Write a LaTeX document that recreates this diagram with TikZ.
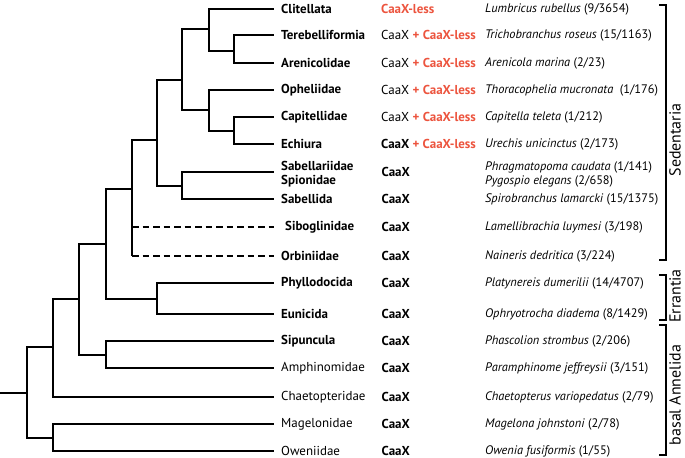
\documentclass[tikz,border=0pt]{standalone}
\usepackage{fontspec}
\setmainfont{PT Sans}
\definecolor{lessred}{RGB}{236,84,62}
\newcommand\fs{\fontsize{12.4}{14}\selectfont}
\newcommand\ffs{\fontsize{13}{14.5}\selectfont}
\newcommand\lfs{\fontsize{16}{18}\selectfont}
\newcommand\less[1]{\textcolor{lessred}{\bfseries #1}}
\begin{document}
\begin{tikzpicture}[x=1bp,y=-1bp,
  br/.style={line width=1.8bp, line join=miter},
  dbr/.style={br, dash pattern=on 6.5bp off 4bp},
  bk/.style={line width=2bp, line join=miter},
  fam/.style={anchor=west, inner sep=0pt, font=\ffs\bfseries, align=left},
  famr/.style={anchor=west, inner sep=0pt, font=\ffs, align=left},
  cx/.style={anchor=west, inner sep=0pt, font=\ffs},
  sp/.style={anchor=west, inner sep=0pt, font=\fs, align=left},
  lab/.style={rotate=90, inner sep=0pt, font=\lfs}]
\useasboundingbox (0,0) rectangle (685,458);
% leaf tips
\coordinate (t1) at (274,9);
\coordinate (t2) at (274,35);
\coordinate (t3) at (274,63);
\coordinate (t4) at (274,90);
\coordinate (t5) at (274,117);
\coordinate (t6) at (274,144);
\coordinate (t7) at (274,172);
\coordinate (t8) at (274,199);
\coordinate (t9) at (274,227);
\coordinate (t10) at (274,256);
\coordinate (t11) at (274,283);
\coordinate (t12) at (274,314);
\coordinate (t13) at (274,341);
\coordinate (t14) at (274,368);
\coordinate (t15) at (274,397);
\coordinate (t16) at (274,424);
\coordinate (t17) at (274,451);
% internal nodes
\coordinate (n23) at (234,51);
\coordinate (n123) at (209,29);
\coordinate (n56) at (234,131);
\coordinate (n456) at (209,110);
\coordinate (nA) at (182,80);
\coordinate (n78) at (182,186);
\coordinate (nB) at (157,140);
\coordinate (nC) at (132,189);
\coordinate (n1112) at (157,299);
\coordinate (nD) at (106,244);
\coordinate (n1314) at (106,355);
\coordinate (nE) at (79,299);
\coordinate (nF) at (53,347);
\coordinate (n1617) at (53,438);
\coordinate (nR) at (27,393);
\coordinate (r0) at (0,393);
% tree
\draw[br] (n123) |- (t1);
\draw[br] (n123) |- (n23);
\draw[br] (n23) |- (t2);
\draw[br] (n23) |- (t3);
\draw[br] (nA) |- (n123);
\draw[br] (nA) |- (n456);
\draw[br] (n456) |- (t4);
\draw[br] (n456) |- (n56);
\draw[br] (n56) |- (t5);
\draw[br] (n56) |- (t6);
\draw[br] (nB) |- (nA);
\draw[br] (nB) |- (n78);
\draw[br] (n78) |- (t7);
\draw[br] (n78) |- (t8);
\draw[br] (nC) |- (nB);
\draw[br] (nC) -- (nC |- t10);
\draw[dbr] (nC |- t9) -- (t9);
\draw[dbr] (nC |- t10) -- (t10);
\draw[br] (nD) |- (nC);
\draw[br] (nD) |- (n1112);
\draw[br] (n1112) |- (t11);
\draw[br] (n1112) |- (t12);
\draw[br] (nE) |- (nD);
\draw[br] (nE) |- (n1314);
\draw[br] (n1314) |- (t13);
\draw[br] (n1314) |- (t14);
\draw[br] (nF) |- (nE);
\draw[br] (nF) |- (t15);
\draw[br] (nR) |- (nF);
\draw[br] (nR) |- (n1617);
\draw[br] (n1617) |- (t16);
\draw[br] (n1617) |- (t17);
\draw[br] (r0) -- (nR);
% family names
\node[fam] (f1) at (281,9) {Clitellata};
\node[fam] (f2) at (281,35) {Terebelliformia};
\node[fam] (f3) at (281,63) {Arenicolidae};
\node[fam] (f4) at (281,90) {Opheliidae};
\node[fam] (f5) at (281,117) {Capitellidae};
\node[fam] (f6) at (281,144) {Echiura};
\node[fam] (f7) at (281,174) {Sabellariidae\\Spionidae};
\node[fam] (f8) at (281,199) {Sabellida};
\node[fam] (f9) at (285,227) {Siboglinidae};
\node[fam] (f10) at (281,256) {Orbiniidae};
\node[fam] (f11) at (281,283) {Phyllodocida};
\node[fam] (f12) at (281,314) {Eunicida};
\node[fam] (f13) at (281,341) {Sipuncula};
\node[famr] (f14) at (281,368) {Amphinomidae};
\node[famr] (f15) at (281,397) {Chaetopteridae};
\node[famr] (f16) at (281,424) {Magelonidae};
\node[famr] (f17) at (281,451) {Oweniidae};
% CaaX column
\node[cx] (c1) at (381,9) {\less{CaaX-less}};
\node[cx] (c2) at (381,35) {CaaX \less{+ CaaX-less}};
\node[cx] (c3) at (381,63) {CaaX \less{+ CaaX-less}};
\node[cx] (c4) at (381,90) {CaaX \less{+ CaaX-less}};
\node[cx] (c5) at (381,117) {CaaX \less{+ CaaX-less}};
\node[cx] (c6) at (381,144) {\bfseries CaaX \less{+ CaaX-less}};
\node[cx] (c7) at (381.5,172) {\bfseries CaaX};
\node[cx] (c8) at (381.5,199) {\bfseries CaaX};
\node[cx] (c9) at (381.5,227) {\bfseries CaaX};
\node[cx] (c10) at (381.5,256) {\bfseries CaaX};
\node[cx] (c11) at (381.5,283) {\bfseries CaaX};
\node[cx] (c12) at (381.5,314) {\bfseries CaaX};
\node[cx] (c13) at (381.5,341) {\bfseries CaaX};
\node[cx] (c14) at (381.5,368) {\bfseries CaaX};
\node[cx] (c15) at (381.5,397) {\bfseries CaaX};
\node[cx] (c16) at (381.5,424) {\bfseries CaaX};
\node[cx] (c17) at (381.5,451) {\bfseries CaaX};
% species
\node[sp] (s1) at (485,9) {\textit{Lumbricus rubellus} (9/3654)};
\node[sp] (s2) at (485,35) {\textit{Trichobranchus roseus} (15/1163)};
\node[sp] (s3) at (485,63) {\textit{Arenicola marina} (2/23)};
\node[sp] (s4) at (485,90) {\textit{Thoracophelia mucronata}\ \ (1/176)};
\node[sp] (s5) at (485,117) {\textit{Capitella teleta} (1/212)};
\node[sp] (s6) at (485,144) {\textit{Urechis unicinctus} (2/173)};
\node[sp] (s7) at (485,174) {\textit{Phragmatopoma caudata} (1/141)\\\textit{Pygospio elegans} (2/658)};
\node[sp] (s8) at (485,199) {\textit{Spirobranchus lamarcki} (15/1375)};
\node[sp] (s9) at (485,227) {\textit{Lamellibrachia luymesi} (3/198)};
\node[sp] (s10) at (485,256) {\textit{Naineris dedritica} (3/224)};
\node[sp] (s11) at (485,283) {\textit{Platynereis dumerilii} (14/4707)};
\node[sp] (s12) at (485,314) {\textit{Ophryotrocha diadema} (8/1429)};
\node[sp] (s13) at (485,341) {\textit{Phascolion strombus} (2/206)};
\node[sp] (s14) at (485,368) {\textit{Paramphinome jeffreysii} (3/151)};
\node[sp] (s15) at (485,397) {\textit{Chaetopterus variopedatus} (2/79)};
\node[sp] (s16) at (485,424) {\textit{Magelona johnstoni} (2/78)};
\node[sp] (s17) at (485,451) {\textit{Owenia fusiformis} (1/55)};
% brackets
\coordinate (b1a) at (659,5);
\coordinate (b1b) at (659,260);
\coordinate (b2a) at (659,275);
\coordinate (b2b) at (659,320);
\coordinate (b3a) at (659,325);
\coordinate (b3b) at (659,455);
\draw[bk] (b1a) -- ++(7,0) |- (b1b);
\draw[bk] (b2a) -- ++(7,0) |- (b2b);
\draw[bk] (b3a) -- ++(7,0) |- (b3b);
\node[lab] (l1) at (675,140) {Sedentaria};
\node[lab] (l2) at (675,296) {Errantia};
\node[lab] (l3) at (675,395) {basal Annelida};
\end{tikzpicture}
\end{document}
